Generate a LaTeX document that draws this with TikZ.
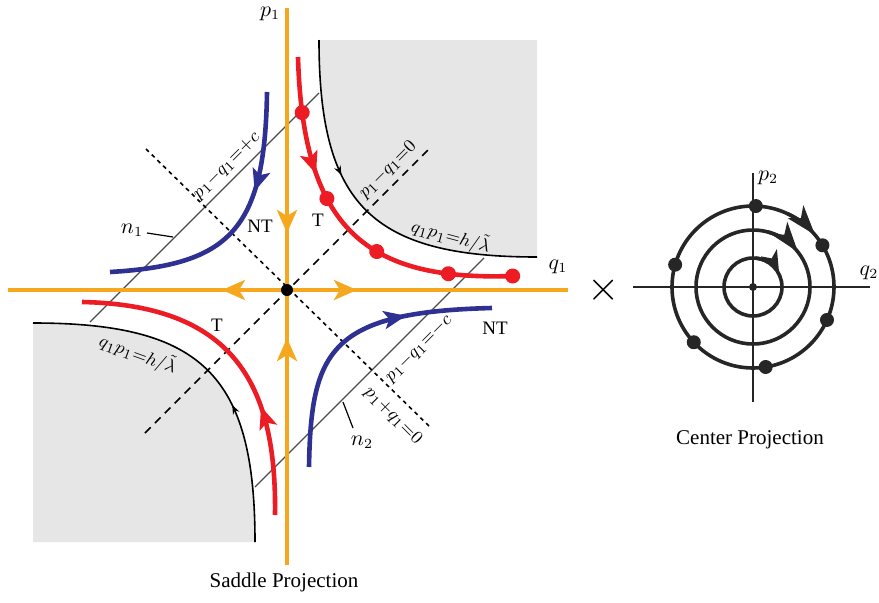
\documentclass[tikz,border=0pt]{standalone}
\usepackage{amsmath,amssymb}
\usepackage{fontspec}
\setmainfont{Liberation Serif}
\usepackage{tikz}
\usetikzlibrary{arrows.meta,decorations.markings}
\usepackage{xcolor}
\definecolor{axisorange}{RGB}{245,168,30}
\definecolor{orbitred}{RGB}{237,28,36}
\definecolor{orbitblue}{RGB}{46,49,146}
\definecolor{regiongray}{RGB}{230,230,230}

\begin{document}
\begin{tikzpicture}[
      x=0.5pt, y=0.5pt,
      every node/.style={font=\fontsize{10.5}{12}\selectfont},
      small/.style={font=\fontsize{9.5}{11}\selectfont, inner sep=1pt},
      axis/.style={axisorange, line width=2.3pt},
      flowtip/.style={-{Stealth[length=11.5pt, width=10pt, inset=3pt]}},
      diag/.style={black, line width=0.8pt},
      nline/.style={black!70, line width=0.6pt},
      boundary/.style={black, line width=0.8pt},
      orbit/.style={line width=2.3pt},
      ring/.style={black!85, line width=1.8pt},
      ringtip/.style={-{Stealth[length=15pt, width=10pt, inset=4pt]}},
      midarrow/.style={postaction={decorate, decoration={markings,
        mark=at position #1 with {\arrow{Stealth[length=11pt, width=9pt, inset=2.5pt]}}}}},
      smallarrow/.style={postaction={decorate, decoration={markings,
        mark=at position #1 with {\arrow{Stealth[length=4.5pt, width=3.5pt]}}}}},
      reddots/.style={postaction={decorate, decoration={markings,
        mark=at position 0.155 with {\fill[orbitred] circle (3.75pt);},
        mark=at position 0.405 with {\fill[orbitred] circle (3.75pt);},
        mark=at position 0.61 with {\fill[orbitred] circle (3.75pt);},
        mark=at position 0.82 with {\fill[orbitred] circle (3.75pt);},
        mark=at position 0.999 with {\fill[orbitred] circle (3.75pt);}}}}
    ]
    \useasboundingbox (0,0) rectangle (879,602);
    \coordinate (O) at (287,312);
    \coordinate (C) at (753,315);

    % saddle projection
    \begin{scope}[shift={(O)}]
      \fill[regiongray] (32,250) .. controls (32,85) and (85,33) .. (250,33) -- (250,250) -- cycle;
      \fill[regiongray] (-32,-252) .. controls (-32,-85) and (-85,-33) .. (-254,-33) -- (-254,-252) -- cycle;
      \draw[boundary, smallarrow=0.38] (32,250) .. controls (32,85) and (85,33) .. (250,33);
      \draw[boundary, smallarrow=0.38] (-32,-252) .. controls (-32,-85) and (-85,-33) .. (-254,-33);

      \draw[nline] (-197,-32) -- (32,197);
      \draw[nline] (-32,-197) -- (197,32);
      \draw[diag, dash pattern=on 2pt off 2pt] (-141,141) -- (143,-137);
      \draw[diag, dash pattern=on 4pt off 3pt] (-142,-143) -- (141,140);

      \draw[axis] (-279,0) -- (281,0);
      \draw[axis] (0,-275) -- (0,282);
      \draw[axis, flowtip] (0,0) -- (-65,0);
      \draw[axis, flowtip] (0,0) -- (70,0);
      \draw[axis, flowtip] (0,150) -- (0,57);
      \draw[axis, flowtip] (0,-150) -- (0,-48);
      \fill[black] (0,0) circle (3pt);

      \draw[orbit, orbitblue, midarrow=0.36] (-20,198) .. controls (-22,60) and (-57,25) .. (-177,18);
      \draw[orbit, orbitblue, midarrow=0.7] (22,-177) .. controls (24,-60) and (43,-22) .. (205,-18);
      \draw[orbit, orbitred, midarrow=0.33, reddots] (11,233) .. controls (16,60) and (80,9) .. (226,14);
      \draw[orbit, orbitred, midarrow=0.33] (-12,-225) .. controls (-10,-90) and (-57,-15) .. (-205,-12);

      \node (p1) at (-17,276) {$p_1$};
      \node (q1) at (271,23) {$q_1$};
      \node[small] (ntup) at (-27,64) {NT};
      \node[small] (tup) at (31,70) {T};
      \node[small] (tlow) at (-70,-35) {T};
      \node[small] (ntlow) at (208,-38) {NT};
      \node (n1) at (-155,60) {$n_1$};
      \draw[black, line width=0.6pt] (-140,57) -- (-114,53);
      \node (n2) at (75,-152) {$n_2$};
      \draw[black, line width=0.6pt] (56,-112) -- (66,-138);
      \node[small, rotate=45] (lplus) at (-60,124) {$p_1{-}q_1{=}{+}c$};
      \node[small, rotate=45] (ldiag) at (101,120) {$p_1{-}q_1{=}0$};
      \node[small, rotate=-15] (hup) at (164,54) {$q_1p_1{=}h/\tilde{\lambda}$};
      \node[small, rotate=-20] (hlow) at (-149,-64) {$q_1p_1{=}h/\tilde{\lambda}$};
      \node[small, rotate=45] (lminus) at (132,-59) {$p_1{-}q_1{=}{-}c$};
      \node[small, rotate=-45] (lsum) at (106,-126) {$p_1{+}q_1{=}0$};
    \end{scope}
    \node (saddle) at (284,20) {Saddle Projection};

    \node[font=\fontsize{22}{24}\selectfont] (times) at (604,312) {$\times$};

    % center projection
    \begin{scope}[shift={(C)}]
      \draw[black!85, line width=0.8pt] (-120,0) -- (117,0);
      \draw[black!85, line width=0.8pt] (0,-115) -- (0,114);
      \draw[ring] (0,0) circle [radius=81];
      \draw[ring] (0,0) circle [radius=57];
      \draw[ring] (0,0) circle [radius=29];
      \draw[ring, ringtip] (65:81) arc[start angle=65, end angle=40, radius=81];
      \draw[ring, ringtip] (75:57) arc[start angle=75, end angle=38, radius=57];
      \draw[ring, -{Stealth[length=12pt, width=8.5pt, inset=3pt]}] (85:29) arc[start angle=85, end angle=25, radius=29];
      \fill[black!85] (0,0) circle (2pt);
      \foreach \a in {88,31,164,-24,223,279}
        \fill[black!85] (\a:81) circle (3.5pt);
      \node (p2) at (15,109) {$p_2$};
      \node (q2) at (116,14) {$q_2$};
    \end{scope}
    \node (center) at (750,162) {Center Projection};
  \end{tikzpicture}
\end{document}
